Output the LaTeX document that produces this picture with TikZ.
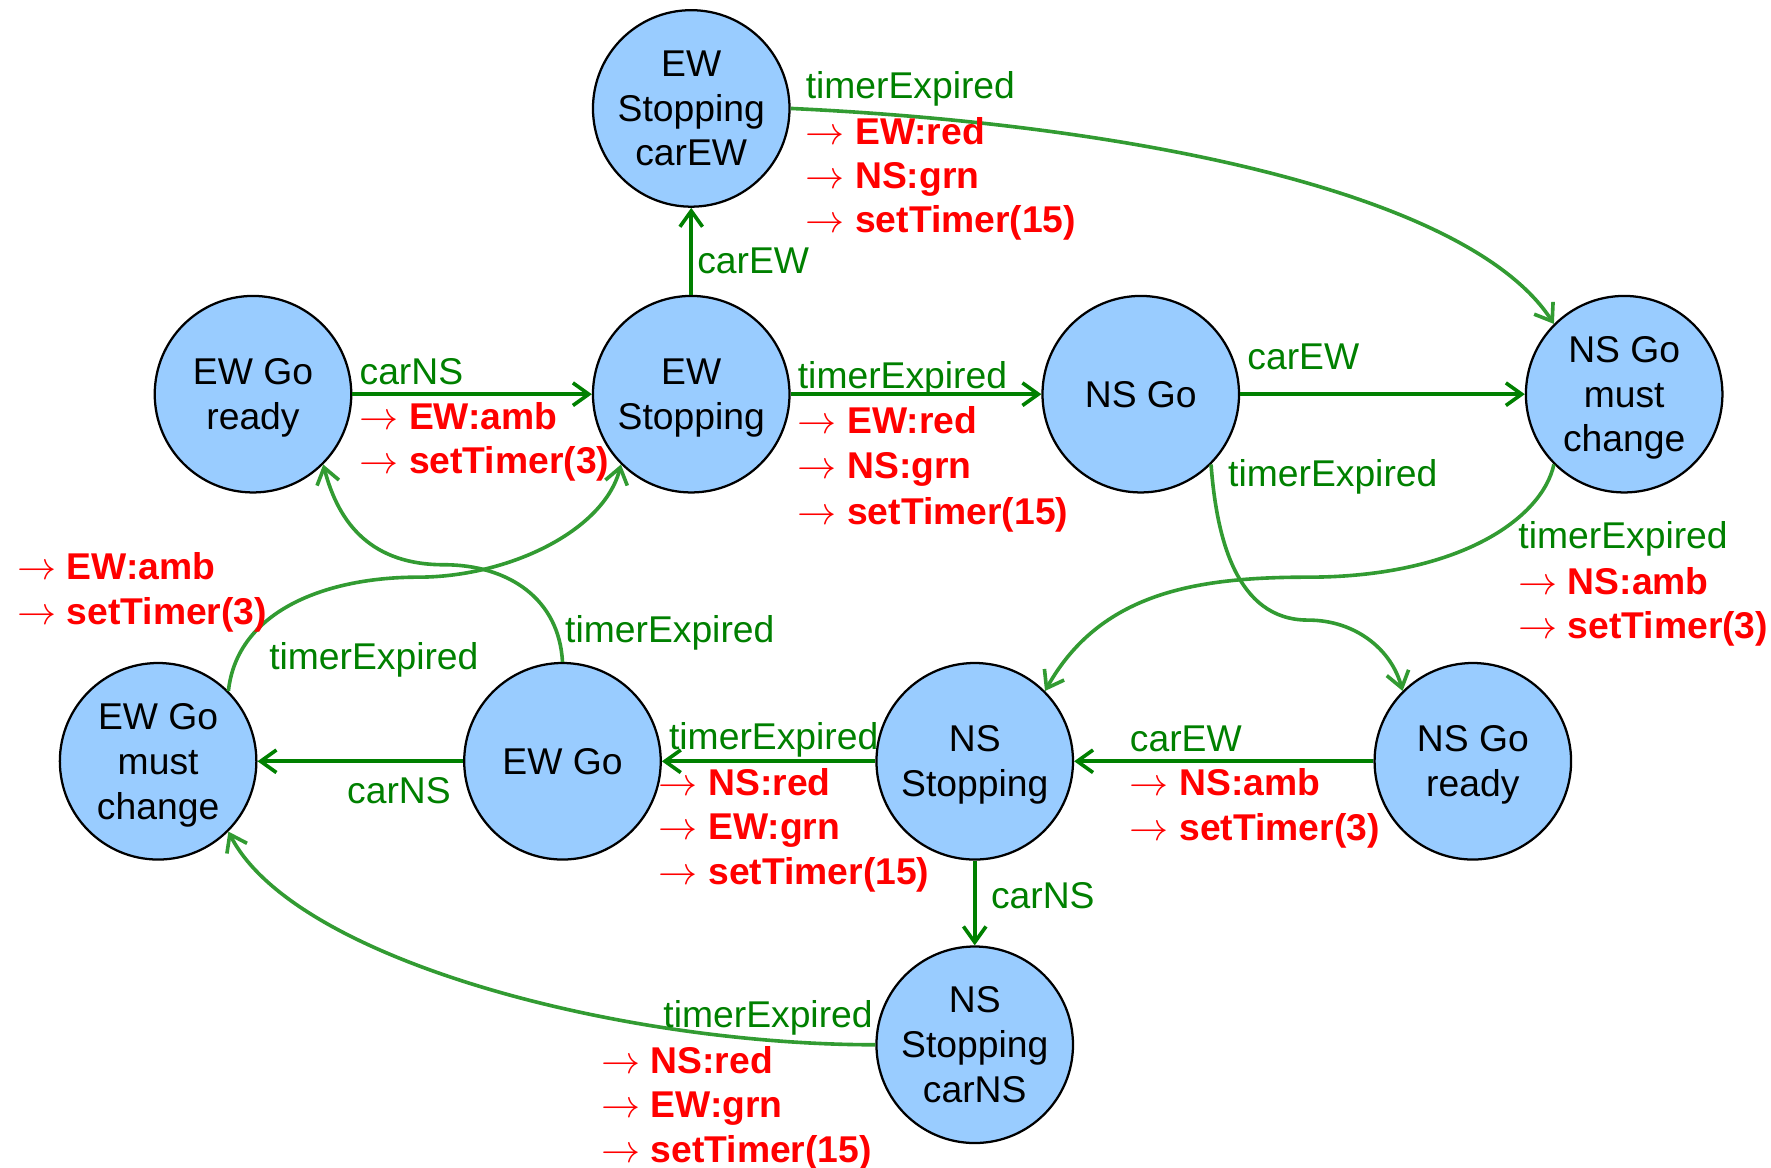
\documentclass[tikz,border=0pt]{standalone}
\usepackage{fontspec}
\setmainfont{Liberation Sans}
\usetikzlibrary{arrows.meta}
\definecolor{statefill}{RGB}{153,204,255}
\definecolor{trgreen}{RGB}{0,128,0}
\definecolor{curvegreen}{RGB}{50,155,50}
\definecolor{actred}{RGB}{255,0,0}
\newcommand{\act}[1]{$\rightarrow$ \textbf{#1}}
% last line of a state label: keep its descenders out of the centring
\newcommand{\nd}[1]{\raisebox{0pt}[\height][0pt]{#1}}
\begin{document}
\begin{tikzpicture}[x=0.5pt,y=-0.5pt,
  state/.style={circle, draw=black, line width=1pt, fill=statefill,
    minimum size=87pt, inner sep=0pt, align=center,
    font=\fontsize{16.5}{19.8}\selectfont},
  straightedge/.style={draw=trgreen, line width=1.6pt,
    -{Straight Barb[length=7pt,width=10pt]}},
  curvededge/.style={draw=curvegreen, line width=1.6pt,
    -{Straight Barb[length=7pt,width=10pt]}},
  cond/.style={text=trgreen, anchor=base west, inner sep=0pt,
    font=\fontsize{16.5}{19.8}\selectfont},
  actn/.style={text=actred, anchor=base west, inner sep=0pt,
    font=\fontsize{16.5}{19.8}\selectfont},
]
\useasboundingbox (0,0) rectangle (1568,1034);

% states
\node[state] (ewsc)  at (612,96)   {EW\\Stopping\\carEW};
\node[state] (ewgr)  at (224,349)  {EW Go\\\nd{ready}};
\node[state] (ews)   at (612,349)  {EW\\\nd{Stopping}};
\node[state] (nsgo)  at (1010,349) {NS Go};
\node[state] (nsmc)  at (1438,349) {NS Go\\must\\\nd{change}};
\node[state] (ewgmc) at (140,674)  {EW Go\\must\\\nd{change}};
\node[state] (ewg)   at (498,674)  {EW Go};
\node[state] (nss)   at (863,674)  {NS\\\nd{Stopping}};
\node[state] (nsgr)  at (1304,674) {NS Go\\\nd{ready}};
\node[state] (nssc)  at (863,925)  {NS\\Stopping\\carNS};

% straight transitions
\draw[straightedge] (ews) -- (ewsc);
\draw[straightedge] (ewgr) -- (ews);
\draw[straightedge] (ews) -- (nsgo);
\draw[straightedge] (nsgo) -- (nsmc);
\draw[straightedge] (nsgr) -- (nss);
\draw[straightedge] (nss) -- (ewg);
\draw[straightedge] (ewg) -- (ewgmc);
\draw[straightedge] (nss) -- (nssc);

% curved transitions
\draw[curvededge] (ewsc.east) .. controls (1000,110) and (1300,170) .. (nsmc.135);
\draw[curvededge] (nsgo.-45) .. controls (1077,475) and (1094,549) .. (1158,549)
  .. controls (1200,549) and (1232,575) .. (nsgr.135);
\draw[curvededge] (nsmc.-135) .. controls (1365,460) and (1290,511) .. (1158,511)
  .. controls (1058,511) and (974,525) .. (nss.45);
\draw[curvededge] (nssc.west) .. controls (550,925) and (260,850) .. (ewgmc.-45);
\draw[curvededge] (ewg.north) .. controls (495,530) and (450,500) .. (393,500)
  .. controls (330,500) and (300,465) .. (ewgr.-45);
\draw[curvededge] (ewgmc.45) .. controls (210,540) and (290,511) .. (370,511)
  .. controls (450,511) and (535,470) .. (ews.-135);

% EW Stopping -> EW Stopping carEW
\node[cond] (c1) at (617,242) {carEW};
% EW Stopping carEW -> NS Go must change
\node[cond] (c2) at (713,87) {timerExpired};
\node[actn] (a2a) at (713,128) {\act{EW:red}};
\node[actn] (a2b) at (713,167) {\act{NS:grn}};
\node[actn] (a2c) at (713,206) {\act{setTimer(15)}};
% EW Go ready -> EW Stopping
\node[cond] (c3) at (318,340) {carNS};
\node[actn] (a3a) at (318,380) {\act{EW:amb}};
\node[actn] (a3b) at (318,419) {\act{setTimer(3)}};
% EW Stopping -> NS Go
\node[cond] (c4) at (706,344) {timerExpired};
\node[actn] (a4a) at (706,384) {\act{EW:red}};
\node[actn] (a4b) at (706,424) {\act{NS:grn}};
\node[actn] (a4c) at (706,464) {\act{setTimer(15)}};
% NS Go -> NS Go must change
\node[cond] (c5) at (1104,327) {carEW};
% NS Go -> NS Go ready
\node[cond] (c6) at (1087,431) {timerExpired};
% NS Go must change -> NS Stopping
\node[cond] (c7) at (1344,486) {timerExpired};
\node[actn] (a7a) at (1344,526) {\act{NS:amb}};
\node[actn] (a7b) at (1344,565) {\act{setTimer(3)}};
% NS Go ready -> NS Stopping
\node[cond] (c8) at (1000,665) {carEW};
\node[actn] (a8a) at (1000,704) {\act{NS:amb}};
\node[actn] (a8b) at (1000,744) {\act{setTimer(3)}};
% NS Stopping -> EW Go
\node[cond] (c9) at (592,664) {timerExpired};
\node[actn] (a9a) at (583,704) {\act{NS:red}};
\node[actn] (a9b) at (583,743) {\act{EW:grn}};
\node[actn] (a9c) at (583,783) {\act{setTimer(15)}};
% EW Go -> EW Go must change
\node[cond] (c10) at (307,711) {carNS};
% NS Stopping -> NS Stopping carNS
\node[cond] (c11) at (877,804) {carNS};
% NS Stopping carNS -> EW Go must change
\node[cond] (c12) at (587,910) {timerExpired};
\node[actn] (a12a) at (532,950) {\act{NS:red}};
\node[actn] (a12b) at (532,989) {\act{EW:grn}};
\node[actn] (a12c) at (532,1029) {\act{setTimer(15)}};
% EW Go -> EW Go ready
\node[cond] (c13) at (500,569) {timerExpired};
% EW Go must change -> EW Stopping
\node[cond] (c14) at (238,593) {timerExpired};
\node[actn] (a14a) at (15,513) {\act{EW:amb}};
\node[actn] (a14b) at (15,553) {\act{setTimer(3)}};
\end{tikzpicture}
\end{document}
